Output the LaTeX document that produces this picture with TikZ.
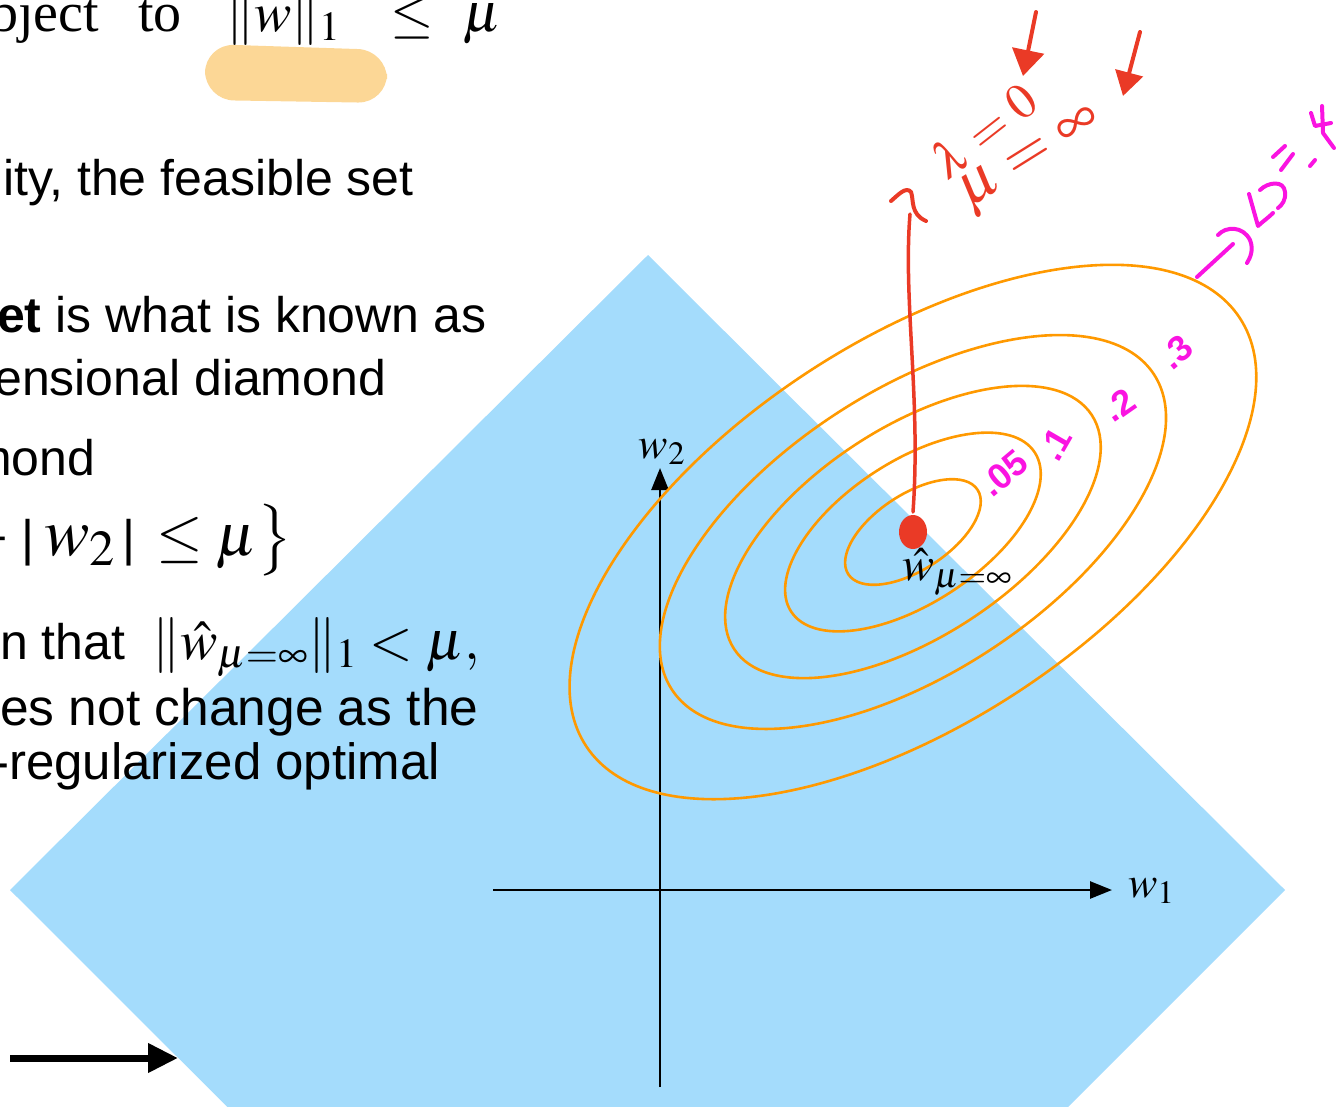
\documentclass[tikz,border=0pt]{standalone}
\usepackage{mathptmx}
\usepackage[no-math]{fontspec}
\setmainfont{Liberation Sans}
\newfontfamily\serifrm{Liberation Serif}
\usetikzlibrary{arrows.meta}
\definecolor{feas}{RGB}{164,220,252}
\definecolor{contourc}{RGB}{255,153,0}
\definecolor{hred}{RGB}{234,58,38}
\definecolor{hpink}{RGB}{250,20,225}
\definecolor{hilite}{RGB}{252,215,150}
\begin{document}
\begin{tikzpicture}[x=1pt,y=-1pt,
  txt/.style={anchor=base west, inner sep=0, font=\fontsize{50}{60}\selectfont},
  mth/.style={anchor=base west, inner sep=0, font=\fontsize{56}{60}\selectfont},
  contour/.style={draw=contourc, line width=2.6},
  axisline/.style={line width=2.6, -{Triangle[length=22,width=17]}},
  hand/.style={line width=4, line cap=round, line join=round},
  pinklab/.style={inner sep=0, text=hpink, font=\fontsize{36}{40}\selectfont\bfseries},
  redlab/.style={inner sep=0, text=hred}]
\useasboundingbox (0,0) rectangle (1337,1107);
\clip (0,0) rectangle (1337,1107);
% feasible set (diamond)
\fill[feas] (648,255) -- (1285,890) -- (648,1527) -- (10,890) -- cycle;
% highlight
\fill[hilite, rounded corners=29] (205,44) -- (387,50) -- (387,103) -- (205,100) -- cycle;
% text block
\node[anchor=base west, inner sep=0, font=\fontsize{56}{60}\serifrm] (t1a) at (-10,32) {bject};
\node[anchor=base west, inner sep=0, font=\fontsize{56}{60}\serifrm] (t1b) at (138,32) {to};
\node[mth] (t1c) at (226,32) {$\|w\|_1$};
\node[mth] (t1d) at (390,32) {$\leq$};
\node[mth] (t1e) at (463,32) {$\mu$};
\node[txt] (t2) at (3,196) {ity, the feasible set};
\node[txt] (t3) at (-3,332) {\textbf{et} is what is known as};
\node[txt] (t4) at (-6,395) {ensional diamond};
\node[txt] (t5) at (-30,475) {mond};
\node[txt] (t6a) at (-22,555) {+ |};
\node[anchor=base west, inner sep=0, font=\fontsize{68}{72}\selectfont] (t6b) at (44,555) {$w_2$};
\node[txt] (t6c) at (122,555) {|};
\node[anchor=base west, inner sep=0, font=\fontsize{60}{64}\selectfont] (t6d) at (156,555) {$\leq\mu\big\}$};
\node[txt] (t7a) at (0,659) {n that};
\node[mth] (t7b) at (152,659) {$\|\hat{w}_{\mu=\infty}\|_1<\mu,$};
\node[txt, font=\fontsize{51.5}{60}\selectfont] (t8) at (0,725) {es not change as the};
\node[txt, font=\fontsize{51}{60}\selectfont] (t9) at (-8,779) {-regularized optimal};
% bottom-left arrow
\coordinate (bla) at (10,1058);
\coordinate (blb) at (178,1058);
\draw[line width=7, -{Triangle[length=30,width=28]}] (bla) -- (blb);
% axes
\coordinate (o) at (660,890);
\coordinate (v0) at (660,1087);
\coordinate (v1) at (660,468);
\coordinate (h0) at (493,890);
\coordinate (h1) at (1112,890);
\draw[axisline] (v0) -- (v1);
\draw[axisline] (h0) -- (h1);
\node[anchor=base, inner sep=0, font=\fontsize{44}{48}\selectfont] (w2) at (662,458) {$w_2$};
\node[anchor=base west, inner sep=0, font=\fontsize{44}{48}\selectfont] (w1) at (1128,897) {$w_1$};
% contours
\coordinate (wh) at (913,532);
\foreach \a/\b in {390.7/191.3, 288/141, 213.7/104.6, 145.5/71, 77.2/37.8}
  \draw[contour, rotate around={33.2:(wh)}] (wh) ellipse [x radius=\a, y radius=\b];
% optimum
\fill[hred] (wh) ellipse [x radius=14, y radius=17];
\node[anchor=base west, inner sep=0, font=\fontsize{48}{52}\selectfont] (what) at (902,580) {$\hat{w}_{\mu=\infty}$};
% red annotation
\coordinate (rl0) at (913,512);
\coordinate (rl1) at (910,214);
\draw[hred, line width=3.5, line cap=round] (rl0) .. controls (921,400) and (903,300) .. (rl1);
\draw[hred, hand] (891,201) .. controls (898,195) and (906,186) .. (911,192) .. controls (914,200) and (910,214) .. (926,221);
\node[redlab, rotate=38, font=\fontsize{50}{54}\selectfont] (lam) at (983,130) {$\lambda=0$};
\node[redlab, rotate=32, font=\fontsize{60}{64}\selectfont] (muinf) at (1032,160) {$\mu=\infty$};
\coordinate (ra0) at (1036,12);
\coordinate (ra1) at (1023,76);
\coordinate (rb0) at (1140,32);
\coordinate (rb1) at (1123,96);
\draw[hred, hand, -{Triangle[length=26,width=32]}] (ra0) -- (ra1);
\draw[hred, hand, -{Triangle[length=24,width=28]}] (rb0) -- (rb1);
% magenta contour labels
\node[pinklab, rotate=40] (l05) at (1004,473) {.05};
\node[pinklab, rotate=60] (l1) at (1055,444) {.1};
\node[pinklab, rotate=35] (l2) at (1119,405) {.2};
\node[pinklab, rotate=40] (l3) at (1176,352) {.3};
% outer contour annotation (handwritten)
\coordinate (pl0) at (1197,277);
\coordinate (pl1) at (1233,244);
\draw[hpink, hand] (pl0) -- (pl1);
\draw[hpink, hand] (1218,235) .. controls (1226,226) and (1243,226) .. (1250,240) .. controls (1254,250) and (1250,258) .. (1247,263);
\draw[hpink, hand] (1249,194) -- (1258,226) .. controls (1262,222) and (1268,218) .. (1273,213);
\draw[hpink, hand] (1260,190) .. controls (1268,182) and (1284,180) .. (1285,192) .. controls (1286,200) and (1282,205) .. (1278,208);
\draw[hpink, hand] (1273,157) -- (1285,146);
\draw[hpink, hand] (1281,170) -- (1293,154);
\draw[hpink, hand] (1310,166) -- (1315,160);
\draw[hpink, hand] (1311,113) -- (1315,126) -- (1331,123);
\draw[hpink, hand] (1322,106) -- (1323,133) -- (1334,148);
\end{tikzpicture}
\end{document}
